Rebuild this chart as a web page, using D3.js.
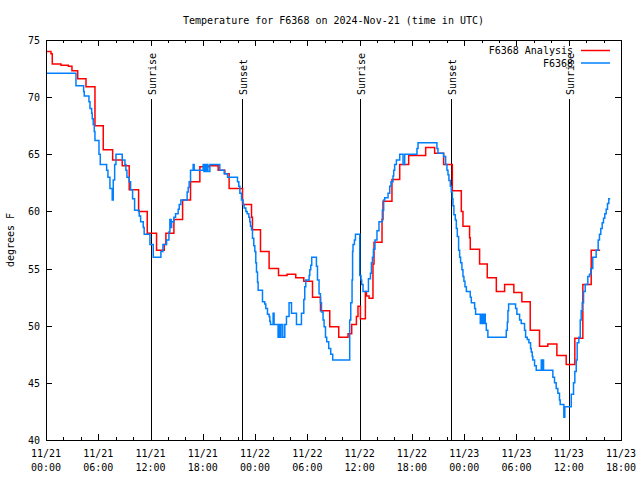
<!DOCTYPE html>
<html>
<head>
<meta charset="utf-8">
<script src="https://cdn.jsdelivr.net/npm/d3@7"></script>
<style>
  html, body { margin: 0; padding: 0; background: #fff; }
  svg text { font-family: "DejaVu Sans Mono", "Liberation Mono", monospace; font-size: 10px; fill: #000; }
</style>
</head>
<body>
<svg id="chart" width="640" height="480"></svg>
<script>
// ---- data (hours since 2024-11-21 00:00 UTC, degrees F) ----
const titleText = "Temperature for F6368 on 2024-Nov-21 (time in UTC)";
const yLabelText = "degrees F";
const seriesNames = ["F6368 Analysis", "F6368"];

const analysisHours = [0, 0.57, 0.72, 1.72, 2.56, 2.98, 3.64, 4.59, 5.62, 6.57, 7.65, 8.75, 9.55, 10.63, 11.62, 12.69, 13.57, 13.76, 14.68, 15.68, 16.59, 17.66, 18.73, 19.76, 20.53, 21.02, 22.56, 23.59, 23.70, 24.62, 25.61, 26.69, 27.67, 28.67, 29.59, 30.59, 31.51, 32.57, 33.60, 34.67, 35.09, 35.63, 35.81, 36.09, 36.66, 36.78, 37.08, 37.53, 37.65, 38.57, 38.68, 39.71, 40.60, 41.63, 43.58, 44.61, 45.64, 46.64, 47.67, 47.86, 48.62, 48.70, 49.77, 50.65, 51.69, 52.64, 53.70, 54.62, 55.58, 56.65, 57.60, 58.64, 59.71, 60.70, 61.62, 62.58, 63.61];
const analysisTemps = [74.0, 73.8, 72.9, 72.8, 72.7, 72.3, 71.6, 70.9, 67.5, 65.4, 64.5, 64.0, 61.9, 60.0, 58.1, 56.6, 57.1, 58.1, 59.3, 61.0, 62.6, 63.9, 64.0, 63.6, 63.3, 62.0, 60.6, 59.5, 58.4, 56.5, 55.0, 54.4, 54.5, 54.2, 53.9, 52.5, 51.3, 49.9, 49.0, 49.3, 50.1, 50.8, 51.7, 50.6, 53.0, 52.6, 52.4, 55.4, 57.3, 59.3, 60.9, 62.8, 64.1, 64.9, 65.6, 65.1, 64.1, 61.8, 60.0, 58.7, 57.7, 56.7, 55.4, 54.2, 53.0, 53.6, 52.9, 52.1, 49.6, 48.2, 48.4, 47.4, 46.6, 48.9, 53.6, 56.6, 56.6];

const obsHours = [0, 3.44, 4.32, 4.39, 4.93, 5.05, 5.24, 5.31, 5.42, 5.54, 5.62, 6.08, 6.23, 6.96, 7.11, 7.34, 7.60, 7.72, 7.88, 8.03, 8.75, 9.06, 9.17, 9.29, 9.55, 9.71, 9.94, 10.17, 10.70, 10.86, 11.16, 11.27, 11.93, 12.31, 13.19, 13.42, 13.84, 14.11, 14.22, 14.37, 14.42, 14.68, 14.87, 15.17, 15.29, 15.48, 16.20, 16.32, 16.43, 16.59, 16.89, 17.01, 17.28, 18.04, 18.12, 18.23, 18.35, 18.46, 18.58, 18.81, 19.95, 20.45, 20.84, 21.98, 22.13, 22.25, 22.44, 22.63, 22.74, 22.94, 23.09, 23.28, 23.39, 23.47, 23.59, 23.70, 23.85, 23.97, 24.08, 24.16, 24.28, 24.35, 24.85, 25.11, 25.23, 25.42, 25.61, 25.69, 25.77, 26.07, 26.18, 26.64, 26.76, 26.87, 26.98, 27.18, 27.41, 27.60, 27.90, 28.18, 28.75, 29.32, 29.59, 29.70, 29.82, 30.20, 30.28, 30.39, 30.50, 31.04, 31.16, 31.34, 31.50, 31.62, 31.80, 31.92, 32.08, 32.22, 32.45, 32.68, 32.91, 34.86, 34.98, 35.13, 35.19, 35.24, 35.40, 35.52, 36.01, 36.16, 36.24, 36.39, 37.01, 37.24, 37.35, 37.47, 37.58, 37.76, 37.99, 38.22, 38.61, 38.76, 38.88, 39.26, 39.45, 39.60, 39.83, 39.91, 40.02, 40.22, 40.60, 40.98, 41.17, 42.58, 42.70, 44.87, 44.99, 45.64, 45.87, 46.02, 46.14, 46.25, 46.41, 46.52, 46.64, 46.71, 46.82, 46.98, 47.10, 47.21, 47.36, 47.48, 47.59, 47.74, 47.86, 47.97, 48.09, 48.25, 48.70, 48.82, 49.20, 49.31, 49.85, 49.97, 50.03, 50.11, 50.23, 50.31, 50.42, 50.54, 50.72, 52.83, 52.95, 53.02, 53.10, 53.90, 54.05, 54.36, 54.55, 54.93, 55.05, 55.24, 55.43, 55.62, 55.70, 55.81, 55.88, 56.08, 56.27, 56.85, 56.96, 57.03, 57.11, 58.18, 58.37, 58.56, 58.75, 58.94, 59.02, 59.44, 59.55, 60.29, 60.55, 60.70, 60.86, 60.97, 61.16, 61.32, 61.43, 61.55, 61.70, 61.89, 62.19, 62.38, 62.53, 62.76, 63.15, 63.38, 63.53, 63.68, 63.84, 63.99, 64.14, 64.30, 64.45, 64.60, 64.76];
const obsTemps = [72.1, 71.0, 70.5, 70.1, 69.6, 69.0, 68.6, 68.1, 67.6, 67.0, 66.2, 65.0, 64.1, 63.6, 63.0, 62.0, 61.0, 62.75, 64.1, 65.0, 64.5, 64.1, 63.6, 63.0, 62.6, 61.9, 61.1, 60.1, 59.6, 59.1, 58.6, 58.0, 57.1, 56.0, 56.5, 57.1, 57.5, 58.2, 59.3, 58.6, 59.1, 59.5, 59.8, 60.2, 60.6, 61.0, 61.7, 62.1, 62.6, 63.6, 64.1, 63.6, 63.6, 64.1, 63.5, 64.1, 63.5, 64.1, 63.5, 64.1, 63.6, 63.3, 63.0, 62.6, 62.2, 61.6, 61.0, 60.6, 60.3, 60.0, 59.8, 59.5, 59.1, 58.7, 58.4, 57.65, 57.0, 56.5, 55.5, 54.7, 53.8, 53.1, 52.1, 51.9, 51.5, 51.0, 50.8, 50.4, 50.1, 51.1, 50.1, 49.0, 50.1, 49.0, 50.1, 49.0, 50.1, 50.8, 52.0, 51.1, 50.1, 51.1, 52.3, 53.4, 54.0, 54.4, 54.9, 55.3, 56.0, 55.2, 54.0, 52.8, 52.0, 51.2, 50.5, 49.9, 49.0, 48.6, 48.0, 47.5, 47.0, 50.5, 52.0, 54.0, 56.5, 57.1, 57.5, 58.0, 54.4, 54.0, 53.6, 53.0, 54.1, 54.6, 55.5, 56.0, 56.7, 57.5, 58.3, 59.1, 60.1, 61.0, 61.2, 61.6, 62.2, 62.6, 63.1, 63.6, 64.1, 64.5, 65.0, 64.1, 65.0, 65.5, 66.0, 65.5, 65.1, 64.8, 64.1, 63.6, 63.2, 62.7, 62.2, 61.7, 61.1, 60.5, 59.7, 59.25, 58.5, 57.8, 56.6, 56.0, 55.5, 54.9, 54.3, 53.9, 53.4, 53.0, 52.5, 52.0, 51.5, 51.0, 50.2, 51.0, 50.2, 51.0, 50.2, 51.0, 50.2, 49.6, 49.0, 49.6, 50.3, 51.3, 51.9, 51.5, 51.0, 50.5, 50.2, 49.6, 49.0, 48.8, 48.5, 48.0, 47.7, 47.3, 47.0, 46.5, 46.1, 47.0, 46.1, 47.0, 46.1, 45.5, 45.0, 44.5, 44.1, 43.5, 43.1, 42.0, 42.9, 44.0, 45.0, 46.0, 47.0, 48.5, 49.0, 50.5, 51.3, 52.0, 53.0, 53.6, 54.3, 54.5, 55.0, 56.0, 56.6, 57.5, 58.0, 58.5, 59.0, 59.4, 59.8, 60.2, 60.7, 61.1, 61.1];

const eventLabels = ["Sunrise", "Sunset", "Sunrise", "Sunset", "Sunrise"];
const eventHours = [12.05, 22.47, 36.0, 46.45, 59.98];

const yTicks = [40, 45, 50, 55, 60, 65, 70, 75];
const xMajorHours = [0, 6, 12, 18, 24, 30, 36, 42, 48, 54, 60, 66];
const xMinorHours = d3.range(0, 67, 2);

// ---- setup ----
const startMs = Date.UTC(2024, 10, 21, 0, 0);
const toDate = h => new Date(startMs + h * 3600000);
const fmtDay = d3.utcFormat("%m/%d");
const fmtTime = d3.utcFormat("%H:%M");

const L = 46, R = 621, T = 40, B = 440;
const x = d3.scaleUtc().domain([toDate(0), toDate(66)]).range([L, R]);
const y = d3.scaleLinear().domain([40, 75]).range([B, T]);

const svg = d3.select("#chart");
svg.append("rect").attr("width", 640).attr("height", 480).attr("fill", "#fff");

// title
svg.append("text").attr("x", (L + R) / 2).attr("y", 24).attr("text-anchor", "middle").text(titleText);
// y label
svg.append("text").attr("transform", "translate(14,240) rotate(-90)").attr("text-anchor", "middle").text(yLabelText);

// axes (ticks inward, mirrored)
function styleAxis(g) {
  g.select(".domain").remove();
  g.selectAll("line").attr("stroke", "#000").attr("shape-rendering", "crispEdges");
  g.selectAll("text").remove();
}
const major = xMajorHours.map(toDate);
const minor = xMinorHours.filter(h => h % 6 !== 0).map(toDate);
svg.append("g").attr("transform", `translate(0,${B})`).call(d3.axisBottom(x).tickValues(major).tickSize(-6)).call(styleAxis);
svg.append("g").attr("transform", `translate(0,${B})`).call(d3.axisBottom(x).tickValues(minor).tickSize(-3)).call(styleAxis);
svg.append("g").attr("transform", `translate(0,${T})`).call(d3.axisTop(x).tickValues(major).tickSize(-6)).call(styleAxis);
svg.append("g").attr("transform", `translate(0,${T})`).call(d3.axisTop(x).tickValues(minor).tickSize(-3)).call(styleAxis);
svg.append("g").attr("transform", `translate(${L},0)`).call(d3.axisLeft(y).tickValues(yTicks).tickSize(-6)).call(styleAxis);
svg.append("g").attr("transform", `translate(${R},0)`).call(d3.axisRight(y).tickValues(yTicks).tickSize(-6)).call(styleAxis);

// y tick labels
svg.append("g").selectAll("text").data(yTicks).join("text")
  .attr("x", L - 6).attr("y", d => y(d) + 4).attr("text-anchor", "end").text(d => d);
// x tick labels
const xl = svg.append("g").selectAll("text").data(major).join("text")
  .attr("text-anchor", "middle");
xl.append("tspan").attr("x", d => x(d)).attr("y", 457).text(d => fmtDay(d));
xl.append("tspan").attr("x", d => x(d)).attr("y", 471).text(d => fmtTime(d));

// sunrise / sunset lines
const ev = eventHours.map((h, i) => ({ t: toDate(h), label: eventLabels[i] }));
svg.append("g").selectAll("line").data(ev).join("line")
  .attr("x1", d => Math.round(x(d.t)) + 0.5).attr("x2", d => Math.round(x(d.t)) + 0.5)
  .attr("y1", 99).attr("y2", B).attr("stroke", "#000").attr("shape-rendering", "crispEdges");
svg.append("g").selectAll("text").data(ev).join("text")
  .attr("transform", d => `translate(${Math.round(x(d.t)) + 4.5},95) rotate(-90)`)
  .attr("text-anchor", "start").text(d => d.label);

// series
const line = d3.line().x(d => x(d.t)).y(d => y(d.v)).curve(d3.curveStepAfter);
const analysis = analysisHours.map((h, i) => ({ t: toDate(h), v: analysisTemps[i] }));
const obs = obsHours.map((h, i) => ({ t: toDate(h), v: obsTemps[i] }));
svg.append("path").datum(analysis).attr("d", line).attr("fill", "none").attr("stroke", "#ff0000")
  .attr("stroke-width", 1.5);
svg.append("path").datum(obs).attr("d", line).attr("fill", "none").attr("stroke", "#0080ff")
  .attr("stroke-width", 1.5);

// frame
svg.append("rect").attr("x", L + 0.5).attr("y", T + 0.5).attr("width", R - L).attr("height", B - T)
  .attr("fill", "none").attr("stroke", "#000").attr("shape-rendering", "crispEdges");

// legend
const colors = ["#ff0000", "#0080ff"];
const lg = svg.append("g").selectAll("g").data(seriesNames).join("g")
  .attr("transform", (d, i) => `translate(0,${50 + i * 12.5})`);
lg.append("text").attr("x", 573).attr("y", 4).attr("text-anchor", "end").text(d => d);
lg.append("line").attr("x1", 581).attr("x2", 610).attr("y1", 0.5).attr("y2", 0.5)
  .attr("stroke", (d, i) => colors[i]).attr("stroke-width", 1.5);
</script>
</body>
</html>
